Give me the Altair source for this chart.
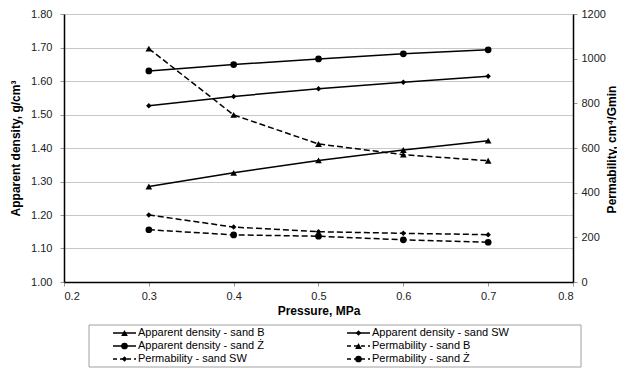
import altair as alt
import pandas as pd

# ---- data ----
pressure = [0.3, 0.4, 0.5, 0.6, 0.7]
dens_B = [1.285, 1.326, 1.363, 1.394, 1.422]
dens_SW = [1.526, 1.554, 1.577, 1.596, 1.614]
dens_Z = [1.630, 1.649, 1.666, 1.681, 1.693]
perm_B = [1045, 748, 618, 570, 543]
perm_SW = [300, 246, 225, 218, 212]
perm_Z = [234, 211, 205, 189, 178]

sands = ["B", "SW", "Ż"]
shapes = ["triangle-up", "diamond", "circle"]
marker_sizes = [45, 30, 45]

x_ticks = [0.2, 0.3, 0.4, 0.5, 0.6, 0.7, 0.8]
left_ticks = [1.0, 1.1, 1.2, 1.3, 1.4, 1.5, 1.6, 1.7, 1.8]
right_ticks = [0, 200, 400, 600, 800, 1000, 1200]

legend_labels = [
    "Apparent density - sand B", "Apparent density - sand SW",
    "Apparent density - sand Ż", "Permability - sand B",
    "Permability - sand SW", "Permability - sand Ż",
]
legend_shapes = ["triangle-up", "diamond", "circle", "triangle-up", "diamond", "circle"]
legend_sizes = [45, 30, 45, 45, 30, 45]
legend_kind = ["solid", "solid", "solid", "dash", "dash", "dash"]

FONT = "Liberation Sans"


def long_df(series_vals):
    rows = []
    for sand, shp, ms, vals in zip(sands, shapes, marker_sizes, series_vals):
        for p, v in zip(pressure, vals):
            rows.append({"sand": sand, "shape": shp, "msize": ms, "pressure": p, "value": v})
    return pd.DataFrame(rows)


dens_df = long_df([dens_B, dens_SW, dens_Z])
perm_df = long_df([perm_B, perm_SW, perm_Z])

x_scale = alt.Scale(domain=[0.2, 0.8], nice=False, zero=False)

x_axis = alt.Axis(
    values=x_ticks, format=".1f", title="Pressure, MPa", grid=False,
    tickSize=4, labelPadding=4, titlePadding=4,
)

left_y = alt.Y(
    "value:Q",
    scale=alt.Scale(domain=[1.0, 1.8], nice=False, zero=False),
    axis=alt.Axis(
        values=left_ticks, format=".2f", title="Apparent density, g/cm³",
        grid=True, tickSize=4, labelPadding=8, titlePadding=8,
    ),
)

right_y = alt.Y(
    "value:Q",
    scale=alt.Scale(domain=[0, 1200], nice=False),
    axis=alt.Axis(
        values=right_ticks, format="d", title="Permability, cm⁴/Gmin",
        orient="right", grid=False, tickSize=4, labelPadding=4,
        titleAngle=270, titleX=38, titleY=135, titleAlign="center",
        titleBaseline="middle",
    ),
)

dens_line = alt.Chart(dens_df).mark_line(color="black", strokeWidth=1.5).encode(
    x=alt.X("pressure:Q", scale=x_scale, axis=x_axis), y=left_y, detail="sand:N"
)
dens_pts = alt.Chart(dens_df).mark_point(filled=True, color="black", opacity=1).encode(
    x=alt.X("pressure:Q", scale=x_scale, axis=x_axis), y=left_y,
    shape=alt.Shape("shape:N", scale=None),
    size=alt.Size("msize:Q", scale=None),
)
dens_layer = alt.layer(dens_line, dens_pts)

perm_line = alt.Chart(perm_df).mark_line(color="black", strokeWidth=1.5, strokeDash=[6, 3]).encode(
    x=alt.X("pressure:Q", scale=x_scale, axis=None), y=right_y, detail="sand:N"
)
perm_pts = alt.Chart(perm_df).mark_point(filled=True, color="black", opacity=1).encode(
    x=alt.X("pressure:Q", scale=x_scale, axis=None), y=right_y,
    shape=alt.Shape("shape:N", scale=None),
    size=alt.Size("msize:Q", scale=None),
)
perm_layer = alt.layer(perm_line, perm_pts)

# ---- legend (drawn below the plot) ----
leg_df = pd.DataFrame({
    "label": legend_labels,
    "col": [i % 2 for i in range(6)],
    "row": [i // 2 for i in range(6)],
    "shape": legend_shapes,
    "msize": legend_sizes,
    "kind": legend_kind,
})
leg_x = alt.Scale(domain=[0, 1], range=[49, 283])
leg_y = alt.Scale(domain=[0, 2], range=[319, 345])

leg_base = alt.Chart(leg_df).transform_calculate(
    xe="datum.col + 23/234", xm="datum.col + 11.5/234", xt="datum.col + 25/234"
)
leg_rule = leg_base.mark_rule(color="black", strokeWidth=1.5).encode(
    x=alt.X("col:Q", scale=leg_x, axis=None),
    x2="xe:Q",
    y=alt.Y("row:Q", scale=leg_y, axis=None),
    strokeDash=alt.StrokeDash(
        "kind:N", scale=alt.Scale(domain=["solid", "dash"], range=[[1, 0], [4, 3]]), legend=None
    ),
)
leg_pts = leg_base.mark_point(filled=True, color="black", opacity=1).encode(
    x=alt.X("xm:Q", scale=leg_x, axis=None),
    y=alt.Y("row:Q", scale=leg_y, axis=None),
    shape=alt.Shape("shape:N", scale=None),
    size=alt.Size("msize:Q", scale=None),
)
leg_text = leg_base.mark_text(align="left", baseline="middle", font=FONT, fontSize=11, color="black").encode(
    x=alt.X("xt:Q", scale=leg_x, axis=None),
    y=alt.Y("row:Q", scale=leg_y, axis=None),
    text="label:N",
)
leg_box = alt.Chart(pd.DataFrame({"a": [0]})).mark_rect(
    fillOpacity=0, stroke="#a0a0a0", strokeWidth=1
).encode(
    x=alt.value(25), x2=alt.value(517), y=alt.value(311), y2=alt.value(353)
)
legend_layer = alt.layer(leg_box, leg_rule, leg_pts, leg_text)

chart = alt.layer(dens_layer, perm_layer, legend_layer).resolve_scale(
    x="independent", y="independent", strokeDash="independent"
).properties(
    width=509, height=268,
    padding={"left": 1, "top": 0, "right": 0, "bottom": 0},
).configure_view(stroke=None).configure_axis(
    labelFont=FONT, titleFont=FONT, labelFontSize=11, titleFontSize=12,
    titleFontWeight="bold", labelColor="#222222", titleColor="black",
    domainColor="black", domainWidth=1.5, tickColor="#999999",
    gridColor="#c8c8c8", gridWidth=1,
)

chart.save("out.html", embed_options={"renderer": "svg", "actions": False})
